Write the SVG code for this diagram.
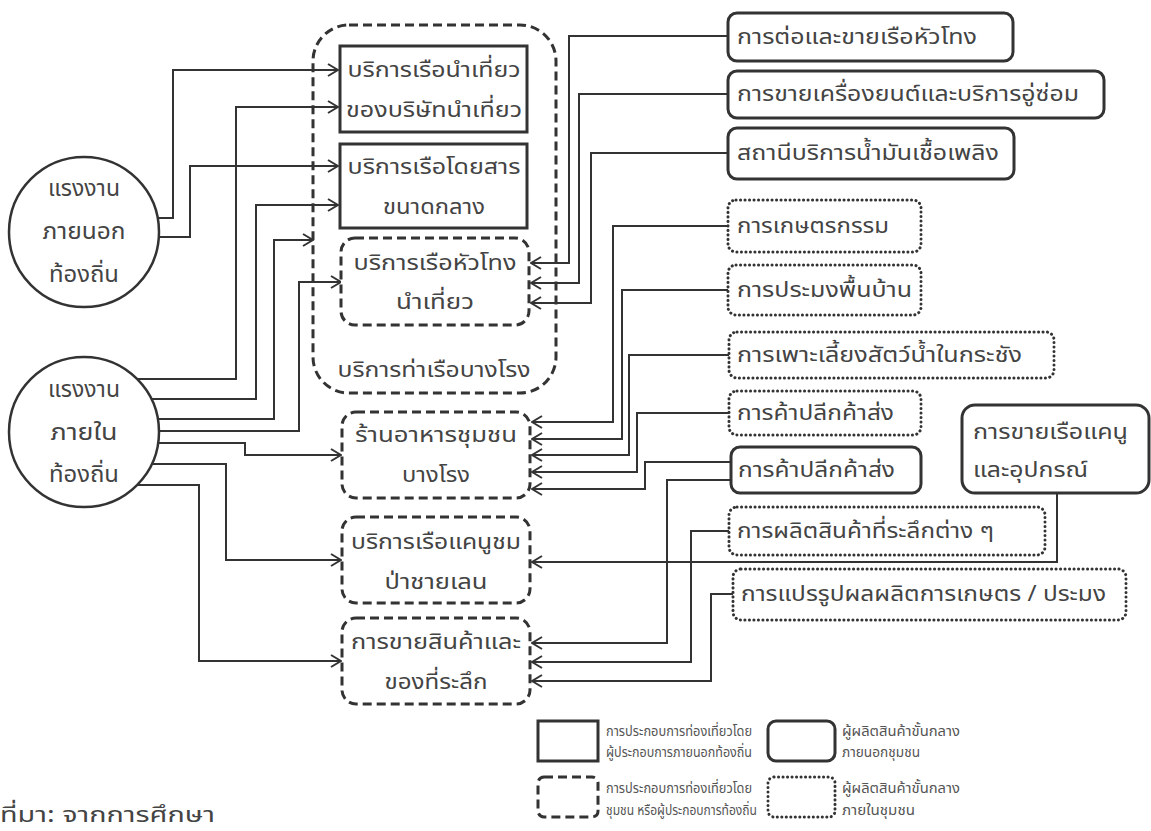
<svg xmlns="http://www.w3.org/2000/svg" width="1151" height="831" viewBox="0 0 1151 831">
<style>
text{font-family:"Noto Sans Thai","Noto Sans Thai Looped",Garuda,Loma,"Noto Sans",sans-serif;fill:#444;dominant-baseline:central}
.t{font-size:22px}
.c{font-size:23px;text-anchor:middle}
.m{text-anchor:middle}
.lg{font-size:14px;fill:#555}
.solid{fill:#fff;stroke:#333;stroke-width:3}
.dash{fill:#fff;stroke:#333;stroke-width:3;stroke-dasharray:9 5}
.outer{fill:none;stroke:#333;stroke-width:3;stroke-dasharray:9 5}
.dot{fill:#fff;stroke:#333;stroke-width:3;stroke-dasharray:0.1 4.4;stroke-linecap:round}
.circ{fill:#fff;stroke:#333;stroke-width:2.5}
#connectors path{fill:none;stroke:#333;stroke-width:2}
.arr path{marker-end:url(#ah)}
</style>
<defs>
<marker id="ah" markerUnits="userSpaceOnUse" viewBox="0 0 12 14" markerWidth="12" markerHeight="14" refX="11" refY="7" orient="auto">
<path d="M1,1 L11,7 L1,13" fill="none" stroke="#333" stroke-width="2"/>
</marker>
</defs>
<rect width="1151" height="831" fill="#fff"/>

<g id="port">
<rect class="outer" x="313" y="25" width="243" height="368" rx="36"/>
<text class="t m" x="434" y="370" textLength="193" lengthAdjust="spacingAndGlyphs">บริการท่าเรือบางโรง</text>
</g>

<g id="connectors">
<g class="arr">
<path d="M158,218 H173 V70 H338"/>
<path d="M159,237 H190 V166 H338"/>
<path d="M137,379 H236 V107 H338"/>
<path d="M151,399 H256 V205 H338"/>
<path d="M158,419 H274 V240 H313"/>
<path d="M159,431 H299 V282 H341"/>
<path d="M158,443 H245 V455 H341"/>
<path d="M152,464 H226 V560 H341"/>
<path d="M137,485 H199 V661 H341"/>
<path d="M728,36 H569 V263 H531"/>
<path d="M728,94 H579 V283 H531"/>
<path d="M728,153 H591 V303 H531"/>
<path d="M728,226 H613 V422 H532"/>
<path d="M728,290 H622 V439 H532"/>
<path d="M729,355 H629 V455 H532"/>
<path d="M729,413 H637 V472 H532"/>
<path d="M731,462 H645 V489 H532"/>
<path d="M731,480 H667 V643 H532"/>
<path d="M729,531 H691 V662 H532"/>
<path d="M733,594 H711 V681 H532"/>
<path d="M1057,493 V562 H532"/>
</g>
</g>

<g id="n-outside-labour">
<circle class="circ" cx="84" cy="232" r="75"/>
<text class="c" x="84" y="189" textLength="72" lengthAdjust="spacingAndGlyphs">แรงงาน</text>
<text class="c" x="84" y="232" textLength="83" lengthAdjust="spacingAndGlyphs">ภายนอก</text>
<text class="c" x="84" y="275" textLength="70" lengthAdjust="spacingAndGlyphs">ท้องถิ่น</text>
</g>
<g id="n-local-labour">
<circle class="circ" cx="84" cy="432" r="75"/>
<text class="c" x="84" y="390" textLength="72" lengthAdjust="spacingAndGlyphs">แรงงาน</text>
<text class="c" x="84" y="433" textLength="67" lengthAdjust="spacingAndGlyphs">ภายใน</text>
<text class="c" x="84" y="475" textLength="70" lengthAdjust="spacingAndGlyphs">ท้องถิ่น</text>
</g>

<g id="n-tour-boat">
<rect class="solid" x="340" y="46" width="187" height="86"/>
<text class="t m" x="434" y="70" textLength="173" lengthAdjust="spacingAndGlyphs">บริการเรือนำเที่ยว</text>
<text class="t m" x="434" y="110" textLength="176" lengthAdjust="spacingAndGlyphs">ของบริษัทนำเที่ยว</text>
</g>
<g id="n-passenger-boat">
<rect class="solid" x="340" y="144" width="187" height="84"/>
<text class="t m" x="434" y="167" textLength="173" lengthAdjust="spacingAndGlyphs">บริการเรือโดยสาร</text>
<text class="t m" x="434" y="207" textLength="102" lengthAdjust="spacingAndGlyphs">ขนาดกลาง</text>
</g>
<g id="n-huatong">
<rect class="dash" x="341" y="238" width="188" height="87" rx="14"/>
<text class="t m" x="435" y="263" textLength="163" lengthAdjust="spacingAndGlyphs">บริการเรือหัวโทง</text>
<text class="t m" x="435" y="302" textLength="78" lengthAdjust="spacingAndGlyphs">นำเที่ยว</text>
</g>
<g id="n-restaurant">
<rect class="dash" x="342" y="412" width="188" height="86" rx="14"/>
<text class="t m" x="436" y="435" textLength="162" lengthAdjust="spacingAndGlyphs">ร้านอาหารชุมชน</text>
<text class="t m" x="436" y="475" textLength="68" lengthAdjust="spacingAndGlyphs">บางโรง</text>
</g>
<g id="n-canoe">
<rect class="dash" x="342" y="517" width="188" height="86" rx="14"/>
<text class="t m" x="436" y="542" textLength="170" lengthAdjust="spacingAndGlyphs">บริการเรือแคนูชม</text>
<text class="t m" x="436" y="582" textLength="103" lengthAdjust="spacingAndGlyphs">ป่าชายเลน</text>
</g>
<g id="n-souvenir">
<rect class="dash" x="342" y="618" width="188" height="86" rx="14"/>
<text class="t m" x="436" y="642" textLength="170" lengthAdjust="spacingAndGlyphs">การขายสินค้าและ</text>
<text class="t m" x="436" y="682" textLength="103" lengthAdjust="spacingAndGlyphs">ของที่ระลึก</text>
</g>

<g id="n-boatbuild">
<rect class="solid" x="728" y="13" width="285" height="48" rx="9"/>
<text class="t" x="737" y="37" textLength="240" lengthAdjust="spacingAndGlyphs">การต่อและขายเรือหัวโทง</text>
</g>
<g id="n-engine">
<rect class="solid" x="728" y="71" width="376" height="47" rx="9"/>
<text class="t" x="737" y="94" textLength="342" lengthAdjust="spacingAndGlyphs">การขายเครื่องยนต์และบริการอู่ซ่อม</text>
</g>
<g id="n-fuel">
<rect class="solid" x="728" y="128" width="286" height="51" rx="9"/>
<text class="t" x="737" y="153" textLength="262" lengthAdjust="spacingAndGlyphs">สถานีบริการน้ำมันเชื้อเพลิง</text>
</g>
<g id="n-agri">
<rect class="dot" x="728" y="200" width="193" height="52" rx="8"/>
<text class="t" x="737" y="226" textLength="152" lengthAdjust="spacingAndGlyphs">การเกษตรกรรม</text>
</g>
<g id="n-fishery">
<rect class="dot" x="728" y="265" width="193" height="50" rx="8"/>
<text class="t" x="737" y="290" textLength="175" lengthAdjust="spacingAndGlyphs">การประมงพื้นบ้าน</text>
</g>
<g id="n-aquaculture">
<rect class="dot" x="729" y="332" width="325" height="46" rx="8"/>
<text class="t" x="737" y="355" textLength="285" lengthAdjust="spacingAndGlyphs">การเพาะเลี้ยงสัตว์น้ำในกระชัง</text>
</g>
<g id="n-retail-local">
<rect class="dot" x="729" y="391" width="192" height="44" rx="8"/>
<text class="t" x="737" y="413" textLength="157" lengthAdjust="spacingAndGlyphs">การค้าปลีกค้าส่ง</text>
</g>
<g id="n-retail-outside">
<rect class="solid" x="731" y="447" width="190" height="46" rx="9"/>
<text class="t" x="738" y="470" textLength="157" lengthAdjust="spacingAndGlyphs">การค้าปลีกค้าส่ง</text>
</g>
<g id="n-canoe-sale">
<rect class="solid" x="962" y="405" width="187" height="88" rx="13"/>
<text class="t" x="973" y="432" textLength="155" lengthAdjust="spacingAndGlyphs">การขายเรือแคนู</text>
<text class="t" x="973" y="470" textLength="115" lengthAdjust="spacingAndGlyphs">และอุปกรณ์</text>
</g>
<g id="n-souvenir-prod">
<rect class="dot" x="729" y="507" width="316" height="48" rx="8"/>
<text class="t" x="737" y="531" textLength="257" lengthAdjust="spacingAndGlyphs">การผลิตสินค้าที่ระลึกต่าง ๆ</text>
</g>
<g id="n-processing">
<rect class="dot" x="733" y="569" width="393" height="51" rx="8"/>
<text class="t" x="741" y="594" textLength="365" lengthAdjust="spacingAndGlyphs">การแปรรูปผลผลิตการเกษตร / ประมง</text>
</g>

<g id="legend">
<rect class="solid" x="538" y="721" width="60" height="40" stroke-width="2.5"/>
<text class="lg" x="606" y="731" textLength="146" lengthAdjust="spacingAndGlyphs">การประกอบการท่องเที่ยวโดย</text>
<text class="lg" x="606" y="752" textLength="146" lengthAdjust="spacingAndGlyphs">ผู้ประกอบการภายนอกท้องถิ่น</text>
<rect class="solid" x="768" y="721" width="67" height="40" rx="8" stroke-width="2.5"/>
<text class="lg" x="842" y="731" textLength="118" lengthAdjust="spacingAndGlyphs">ผู้ผลิตสินค้าขั้นกลาง</text>
<text class="lg" x="842" y="752" textLength="78" lengthAdjust="spacingAndGlyphs">ภายนอกชุมชน</text>
<rect class="dash" x="538" y="777" width="60" height="40" rx="6" stroke-width="2.5"/>
<text class="lg" x="606" y="788" textLength="146" lengthAdjust="spacingAndGlyphs">การประกอบการท่องเที่ยวโดย</text>
<text class="lg" x="606" y="810" textLength="151" lengthAdjust="spacingAndGlyphs">ชุมชน หรือผู้ประกอบการท้องถิ่น</text>
<rect class="dot" x="768" y="777" width="67" height="40" rx="6" stroke-width="2.5"/>
<text class="lg" x="842" y="788" textLength="118" lengthAdjust="spacingAndGlyphs">ผู้ผลิตสินค้าขั้นกลาง</text>
<text class="lg" x="842" y="810" textLength="73" lengthAdjust="spacingAndGlyphs">ภายในชุมชน</text>
</g>

<text x="0" y="815" style="font-size:22px" textLength="215" lengthAdjust="spacingAndGlyphs">ที่มา: จากการศึกษา</text>
</svg>
